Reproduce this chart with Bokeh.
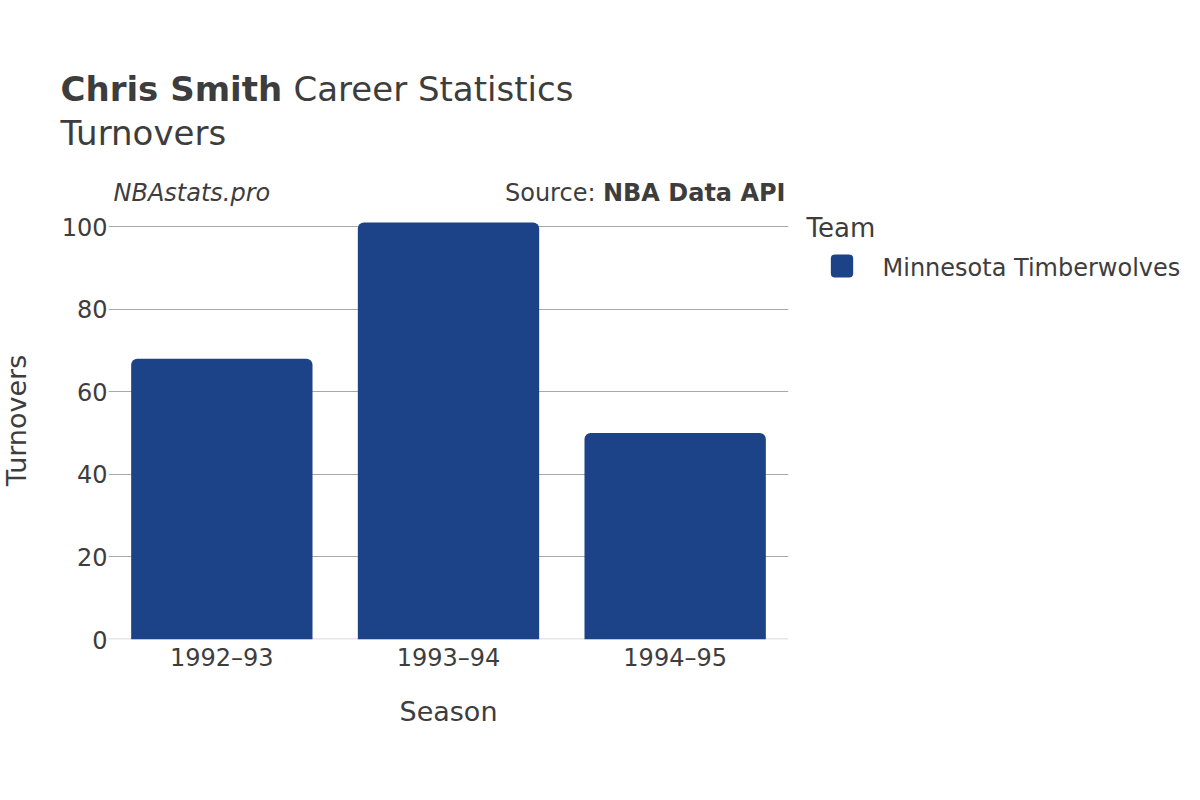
from bokeh.plotting import figure
from bokeh.models import Label, FactorRange, Range1d, FixedTicker, Span, ColumnDataSource
from bokeh.embed import file_html
from bokeh.resources import INLINE
import math

seasons = ["1992–93", "1993–94", "1994–95"]
turnovers = [68, 101, 50]
team = "Minnesota Timberwolves"
y_ticks = [0, 20, 40, 60, 80, 100]

BAR = "#1C4387"
TXT = "#3d3d3d"
FONT = "DejaVu Sans"

src = ColumnDataSource(dict(season=seasons, tov=turnovers))

p = figure(width=1184, height=784, output_backend="svg", toolbar_location=None,
           x_range=FactorRange(*seasons, range_padding=0), y_range=Range1d(0, 101.94),
           min_border_left=108, min_border_right=396, min_border_top=218, min_border_bottom=145)
p.outline_line_color = None
p.background_fill_color = "white"

r = p.vbar(x="season", top="tov", width=0.8, source=src, fill_color=BAR, line_color=None,
           border_radius=(6, 6, 0, 0))

zero = Span(location=0, dimension="width", line_color="#e6e6e6", line_width=3, level="underlay")
p.add_layout(zero)

p.ygrid.grid_line_color = "#a8a8a8"
p.ygrid.grid_line_width = 1
p.ygrid.ticker = FixedTicker(ticks=y_ticks)
p.xgrid.grid_line_color = None

p.yaxis.ticker = FixedTicker(ticks=y_ticks)
for ax in (p.xaxis[0], p.yaxis[0]):
    ax.axis_line_color = None
    ax.major_tick_line_color = None
    ax.minor_tick_line_color = None
    ax.major_label_text_font = FONT
    ax.major_label_text_font_size = "24px"
    ax.major_label_text_color = TXT
p.yaxis.major_label_standoff = -5
p.xaxis.major_label_standoff = -2
p.xaxis.axis_label = "Season"
p.xaxis.axis_label_text_font = FONT
p.xaxis.axis_label_text_font_size = "27px"
p.xaxis.axis_label_text_font_style = "normal"
p.xaxis.axis_label_text_color = TXT
p.xaxis.axis_label_standoff = 21

def lab(panel, text, x, y, size, style="normal", align="left", baseline="alphabetic", angle=0, **kw):
    p.add_layout(Label(text=text, x=x, y=y, x_units="canvas", y_units="canvas",
                       text_font=FONT, text_font_size=size, text_font_style=style,
                       text_color=TXT, text_align=align, text_baseline=baseline, angle=angle, **kw), panel)

# header (above the plot)
lab("above", "Chris Smith", 60, 88, "34px", "bold")
lab("above", "Career Statistics", 293, 88, "34px")
lab("above", "Turnovers", 60, 132, "34px")
lab("above", "NBAstats.pro", 113, 192, "24px", "italic")
lab("above", "NBA Data API", 785, 192, "24px", "bold", align="right")
lab("above", "Source:", 595, 192, "24px", align="right")

# y axis title
lab("left", "Turnovers", 16, 420, "27px", align="center", baseline="middle", angle=math.pi / 2)

# legend
lab("below", "Team", 806, 227, "26px")
lab("right", team, 882, 267, "24px")
lab("right", " ", 841.5, 265.5, "1px", align="center", baseline="middle",
    background_fill_color=BAR, border_radius=4, padding=11)

open("out.html", "w").write(file_html(p, INLINE))
